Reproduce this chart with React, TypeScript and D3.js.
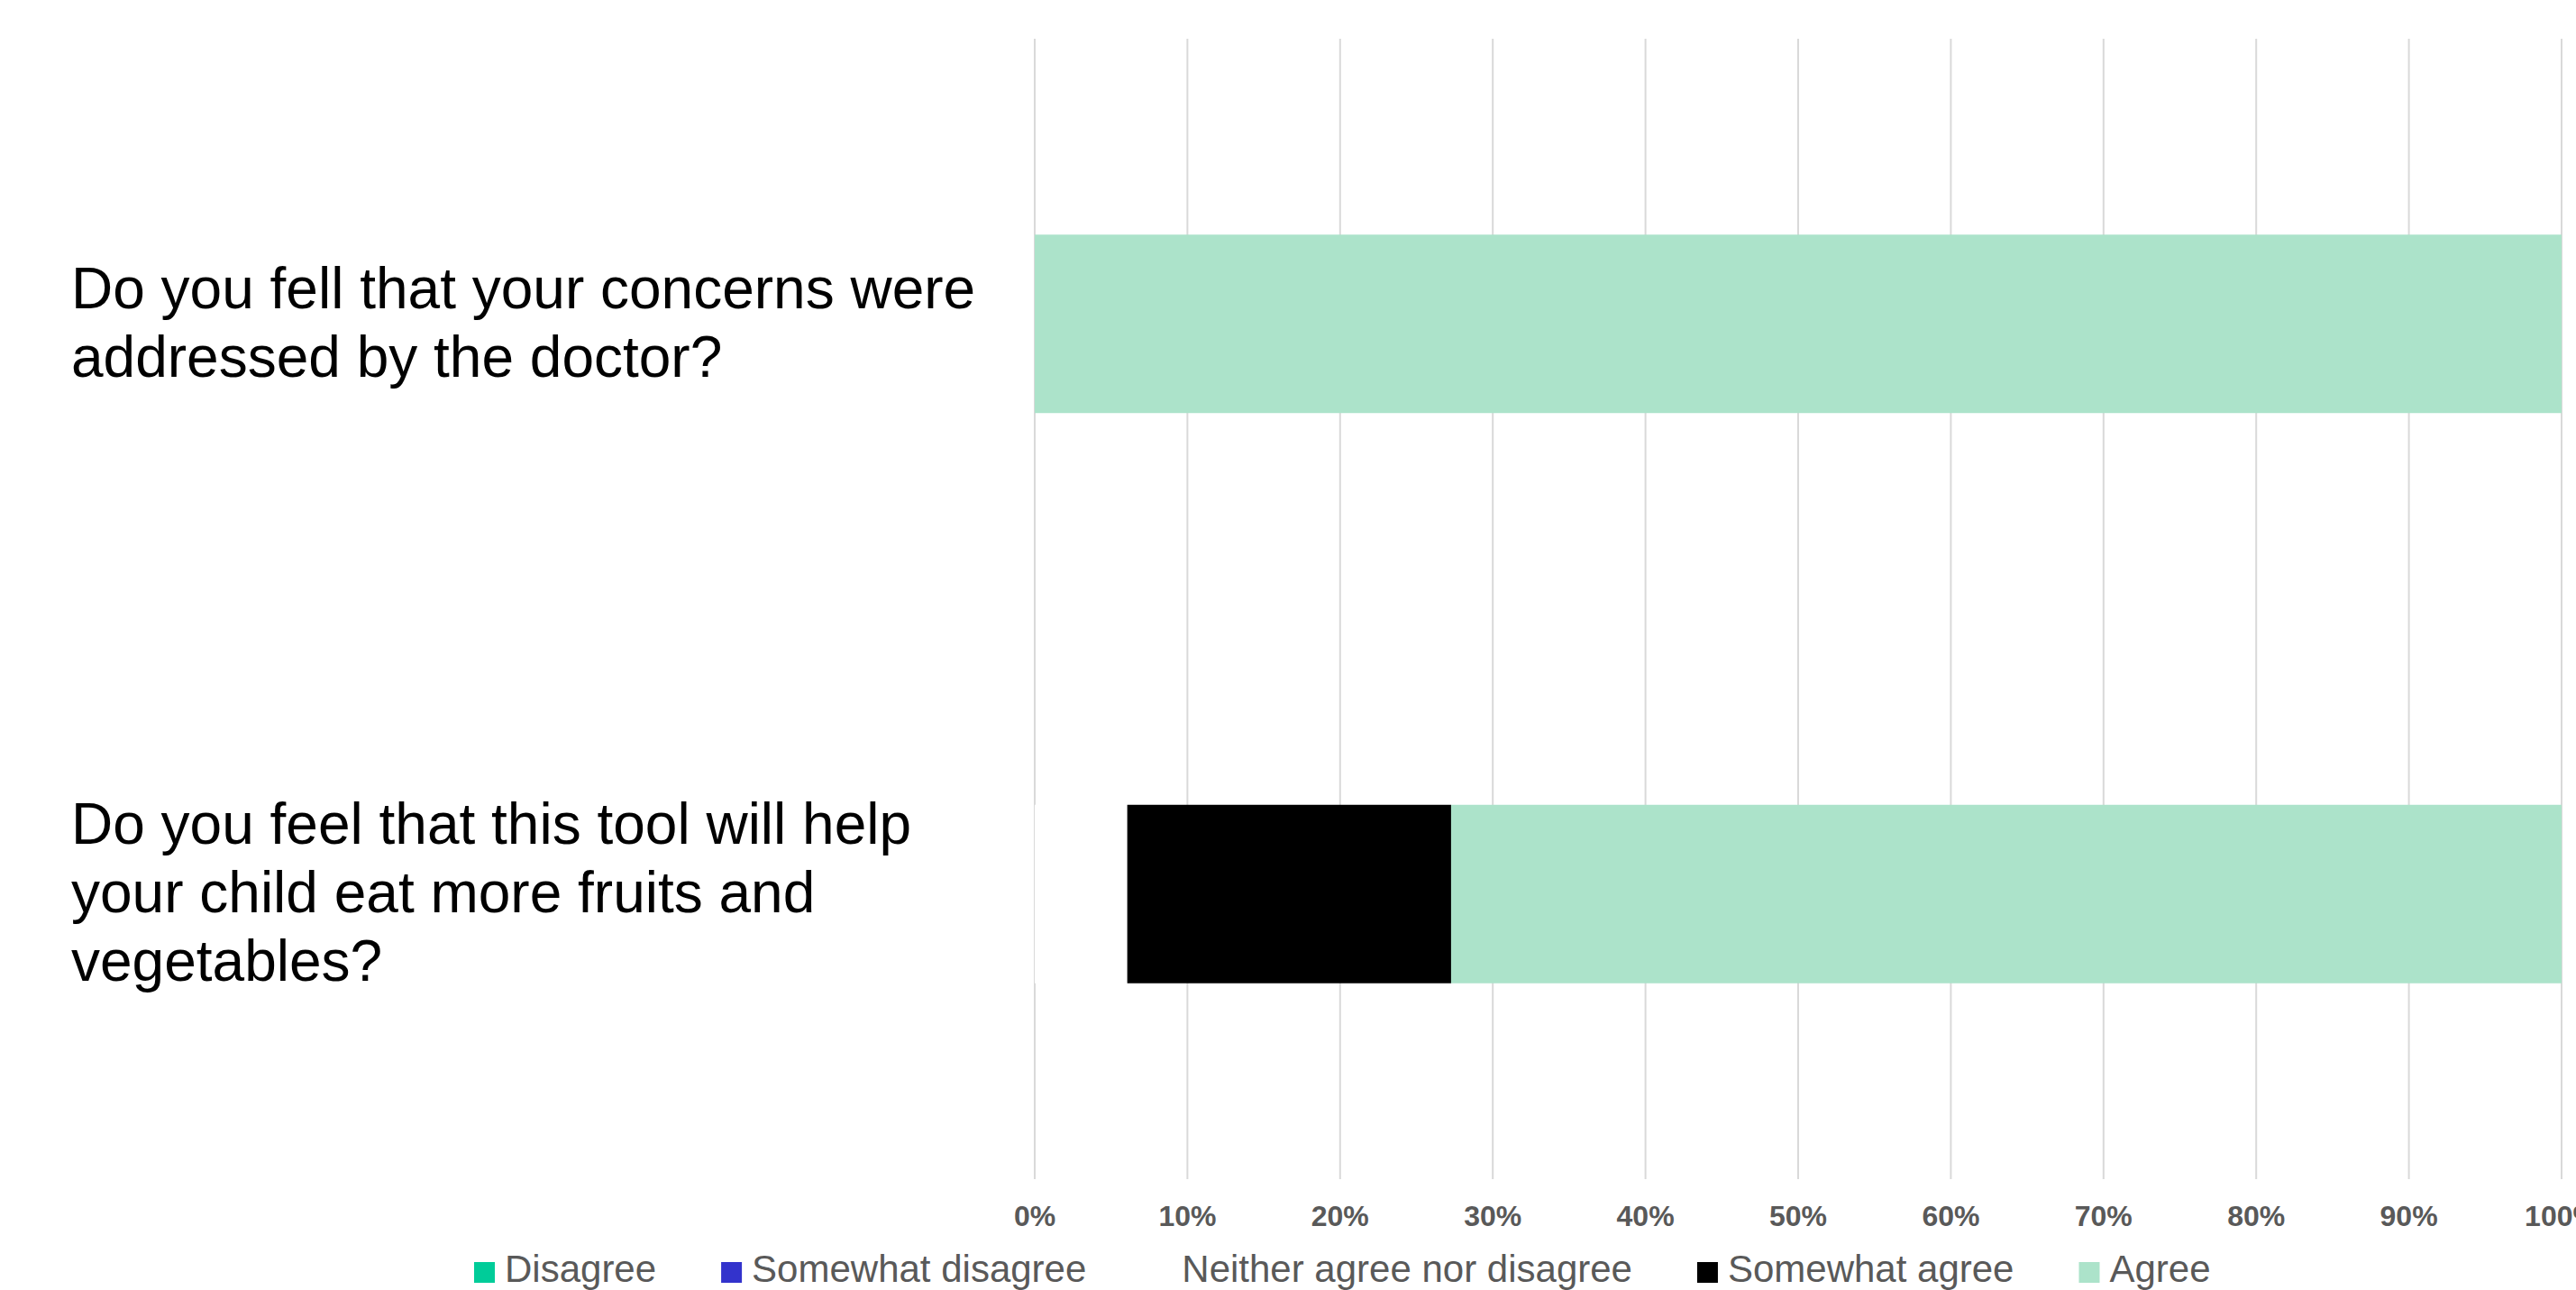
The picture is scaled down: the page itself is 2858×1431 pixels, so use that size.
import React, { useEffect, useRef } from "react";
import * as d3 from "d3";

const W = 2858;
const H = 1431;

const categories = [
  "Do you fell that your concerns were addressed by the doctor?",
  "Do you feel that this tool will help your child eat more fruits and vegetables?",
];
const seriesNames = ["Disagree", "Somewhat disagree", "Neither agree nor disagree", "Somewhat agree", "Agree"];
const seriesColors = ["#00CC99", "#3333CC", "#FFFFFF", "#000000", "#ACE3CA"];

const disagree = [0, 0];
const somewhatDisagree = [0, 0];
const neither = [0, 6.06];
const somewhatAgree = [0, 21.21];
const agree = [100, 72.73];

const xTicks = [0, 10, 20, 30, 40, 50, 60, 70, 80, 90, 100];

const FONT = "'Liberation Sans', Arial, sans-serif";

export default function App() {
  const ref = useRef<SVGSVGElement>(null);

  useEffect(() => {
    const svg = d3.select(ref.current);
    svg.selectAll("*").remove();

    const x = d3.scaleLinear().domain([0, 100]).range([1148, 2842]);
    const y = d3
      .scaleBand<string>()
      .domain(categories)
      .range([43, 1308])
      .paddingInner(0.687)
      .paddingOuter(0.3435);

    svg.append("rect").attr("width", W).attr("height", H).attr("fill", "#fff");

    // gridlines
    svg
      .append("g")
      .selectAll("line")
      .data(xTicks)
      .join("line")
      .attr("x1", (d) => x(d))
      .attr("x2", (d) => x(d))
      .attr("y1", 43)
      .attr("y2", 1308)
      .attr("stroke", "#D9D9D9")
      .attr("stroke-width", 2);

    // stacked bars
    const cols = [disagree, somewhatDisagree, neither, somewhatAgree, agree];
    const rows = categories.map((c, i) => {
      const r: any = { cat: c };
      seriesNames.forEach((s, j) => (r[s] = cols[j][i]));
      return r;
    });
    const stacked = d3.stack<any>().keys(seriesNames)(rows);
    svg
      .append("g")
      .selectAll("g")
      .data(stacked)
      .join("g")
      .attr("fill", (_, i) => seriesColors[i])
      .selectAll("rect")
      .data((d) => d.filter((p) => p[1] - p[0] > 0))
      .join("rect")
      .attr("x", (d) => x(d[0]))
      .attr("width", (d) => x(d[1]) - x(d[0]))
      .attr("y", (d) => y(d.data.cat)!)
      .attr("height", y.bandwidth());

    // x tick labels
    svg
      .append("g")
      .selectAll("text")
      .data(xTicks)
      .join("text")
      .attr("x", (d) => x(d))
      .attr("y", 1360)
      .attr("text-anchor", "middle")
      .attr("font-family", FONT)
      .attr("font-weight", "bold")
      .attr("font-size", 32)
      .attr("fill", "#595959")
      .text((d) => d + "%");

    // category labels with wrapping
    const labelX = 79;
    const fs = 64;
    const lh = 76;
    const maxW = 1060;
    const lg = svg.append("g");
    categories.forEach((c) => {
      const t = lg
        .append("text")
        .attr("font-family", FONT)
        .attr("font-size", fs)
        .attr("fill", "#000");
      const words = c.split(" ");
      const lines: string[] = [];
      let cur = "";
      const probe = t.append("tspan");
      words.forEach((w) => {
        const test = cur ? cur + " " + w : w;
        probe.text(test);
        const len = (probe.node() as SVGTextContentElement).getComputedTextLength();
        if (len > maxW && cur) {
          lines.push(cur);
          cur = w;
        } else cur = test;
      });
      if (cur) lines.push(cur);
      probe.remove();
      const cy = y(c)! + y.bandwidth() / 2;
      const first = cy - ((lines.length - 1) / 2) * lh + 0.32 * fs;
      lines.forEach((ln, i) => {
        t.append("tspan").attr("x", labelX).attr("y", first + i * lh).text(ln);
      });
    });

    // legend
    const leg = svg.append("g");
    let cx = 526;
    const sw = 23;
    const baseline = 1422;
    seriesNames.forEach((s, i) => {
      leg
        .append("rect")
        .attr("x", cx)
        .attr("y", baseline - 22)
        .attr("width", sw)
        .attr("height", sw)
        .attr("fill", seriesColors[i]);
      const t = leg
        .append("text")
        .attr("x", cx + sw + 11)
        .attr("y", baseline)
        .attr("font-family", FONT)
        .attr("font-size", 42)
        .attr("fill", "#595959")
        .text(s);
      const len = (t.node() as SVGTextContentElement).getComputedTextLength();
      cx = cx + sw + 11 + len + 72;
    });
  }, []);

  return (
    <svg
      ref={ref}
      width={W}
      height={H}
      style={{ position: "absolute", left: 0, top: 0, display: "block" }}
    />
  );
}
